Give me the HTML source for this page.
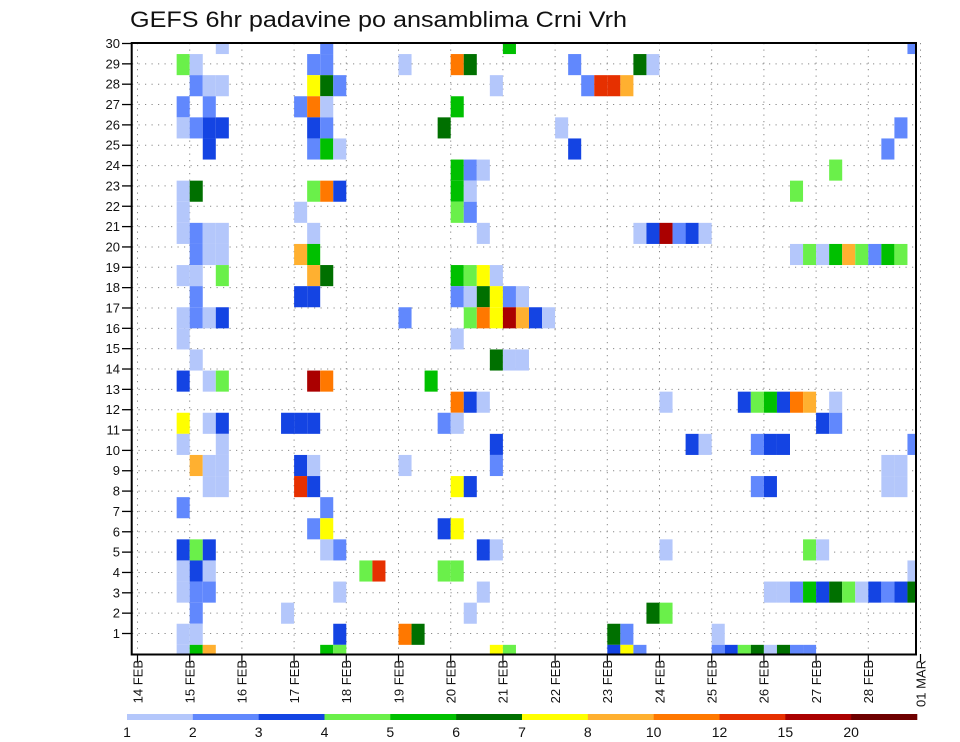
<!DOCTYPE html>
<html><head><meta charset="utf-8"><style>
html,body{margin:0;padding:0;background:#fff;}
svg{display:block;font-family:"Liberation Sans",sans-serif;}
</style></head><body>
<svg id="chart" width="960" height="742" viewBox="0 0 960 742" xmlns="http://www.w3.org/2000/svg">
<defs><clipPath id="plotclip"><rect x="131.7" y="43" width="784.3" height="611.5"/></clipPath></defs>
<text x="130" y="27" font-size="22" fill="#111" textLength="497" lengthAdjust="spacingAndGlyphs">GEFS 6hr padavine po ansamblima Crni Vrh</text>
<g id="grid"></g>
<g id="cells" clip-path="url(#plotclip)"></g>
<rect x="131.7" y="43" width="784.3" height="611.5" fill="none" stroke="#000" stroke-width="2"/>
<g id="yaxis"></g>
<g id="xaxis"></g>
<g id="legend"></g>
</svg>
<script>
// data
const dayLabels = ["14 FEB","15 FEB","16 FEB","17 FEB","18 FEB","19 FEB","20 FEB","21 FEB","22 FEB","23 FEB","24 FEB","25 FEB","26 FEB","27 FEB","28 FEB","01 MAR"];
const memberTicks = [1,2,3,4,5,6,7,8,9,10,11,12,13,14,15,16,17,18,19,20,21,22,23,24,25,26,27,28,29,30];
const levels = [1,2,3,4,5,6,7,8,10,12,15,20];
const levelColors = ["#b4c7fb","#6188fd","#1444e3","#6af04a","#00c000","#007000","#ffff00","#ffb030","#ff7800","#e63000","#aa0000","#6e0000"];
// cells: [member, 6h step since 14 FEB 00Z, precip mm]
const cells = [
[30,6,1.5],[30,14,2.5],[30,28,5.5],[30,59,2.5],
[29,3,4.5],[29,4,1.5],[29,13,2.5],[29,14,2.5],[29,20,1.5],[29,24,11],[29,25,6.5],[29,33,2.5],[29,38,6.5],[29,39,1.5],
[28,4,2.5],[28,5,1.5],[28,6,1.5],[28,13,7.5],[28,14,6.5],[28,15,2.5],[28,27,1.5],[28,34,2.5],[28,35,13.5],[28,36,13.5],[28,37,9],
[27,3,2.5],[27,5,2.5],[27,12,2.5],[27,13,11],[27,14,1.5],[27,24,5.5],
[26,3,1.5],[26,4,2.5],[26,5,3.5],[26,6,3.5],[26,13,3.5],[26,14,2.5],[26,23,6.5],[26,32,1.5],[26,58,2.5],
[25,5,3.5],[25,13,2.5],[25,14,5.5],[25,15,1.5],[25,33,3.5],[25,57,2.5],
[24,24,5.5],[24,25,2.5],[24,26,1.5],[24,53,4.5],
[23,3,1.5],[23,4,6.5],[23,13,4.5],[23,14,11],[23,15,3.5],[23,24,5.5],[23,25,1.5],[23,50,4.5],
[22,3,1.5],[22,12,1.5],[22,24,4.5],[22,25,2.5],
[21,3,1.5],[21,4,2.5],[21,5,1.5],[21,6,1.5],[21,13,1.5],[21,26,1.5],[21,38,1.5],[21,39,3.5],[21,40,17],[21,41,2.5],[21,42,3.5],[21,43,1.5],
[20,4,2.5],[20,5,1.5],[20,6,1.5],[20,12,9],[20,13,5.5],[20,50,1.5],[20,51,4.5],[20,52,1.5],[20,53,5.5],[20,54,9],[20,55,4.5],[20,56,2.5],[20,57,5.5],[20,58,4.5],
[19,3,1.5],[19,4,1.5],[19,6,4.5],[19,13,9],[19,14,6.5],[19,24,5.5],[19,25,4.5],[19,26,7.5],[19,27,1.5],
[18,4,2.5],[18,12,3.5],[18,13,3.5],[18,24,2.5],[18,25,1.5],[18,26,6.5],[18,27,7.5],[18,28,2.5],[18,29,1.5],
[17,3,1.5],[17,4,2.5],[17,5,1.5],[17,6,3.5],[17,20,2.5],[17,25,4.5],[17,26,11],[17,27,7.5],[17,28,17],[17,29,9],[17,30,3.5],[17,31,1.5],
[16,3,1.5],[16,24,1.5],
[15,4,1.5],[15,27,6.5],[15,28,1.5],[15,29,1.5],
[14,3,3.5],[14,5,1.5],[14,6,4.5],[14,13,17],[14,14,11],[14,22,5.5],
[13,24,11],[13,25,3.5],[13,26,1.5],[13,40,1.5],[13,46,3.5],[13,47,4.5],[13,48,5.5],[13,49,3.5],[13,50,11],[13,51,9],[13,53,1.5],
[12,3,7.5],[12,5,1.5],[12,6,3.5],[12,11,3.5],[12,12,3.5],[12,13,3.5],[12,23,2.5],[12,24,1.5],[12,52,3.5],[12,53,2.5],
[11,3,1.5],[11,6,1.5],[11,27,3.5],[11,42,3.5],[11,43,1.5],[11,47,2.5],[11,48,3.5],[11,49,3.5],[11,59,2.5],
[10,4,9],[10,5,1.5],[10,6,1.5],[10,12,3.5],[10,13,1.5],[10,20,1.5],[10,27,2.5],[10,57,1.5],[10,58,1.5],
[9,5,1.5],[9,6,1.5],[9,12,13.5],[9,13,3.5],[9,24,7.5],[9,25,3.5],[9,47,2.5],[9,48,3.5],[9,57,1.5],[9,58,1.5],
[8,3,2.5],[8,14,2.5],
[7,13,2.5],[7,14,7.5],[7,23,3.5],[7,24,7.5],
[6,3,3.5],[6,4,4.5],[6,5,3.5],[6,14,1.5],[6,15,2.5],[6,26,3.5],[6,27,1.5],[6,40,1.5],[6,51,4.5],[6,52,1.5],
[5,3,1.5],[5,4,3.5],[5,5,1.5],[5,17,4.5],[5,18,13.5],[5,23,4.5],[5,24,4.5],[5,59,1.5],
[4,3,1.5],[4,4,2.5],[4,5,2.5],[4,15,1.5],[4,26,1.5],[4,48,1.5],[4,49,1.5],[4,50,2.5],[4,51,5.5],[4,52,3.5],[4,53,6.5],[4,54,4.5],[4,55,1.5],[4,56,3.5],[4,57,2.5],[4,58,3.5],[4,59,6.5],
[3,4,2.5],[3,11,1.5],[3,25,1.5],[3,39,6.5],[3,40,4.5],
[2,3,1.5],[2,4,1.5],[2,15,3.5],[2,20,11],[2,21,6.5],[2,36,6.5],[2,37,2.5],[2,44,1.5],
[1,3,1.5],[1,4,5.5],[1,5,9],[1,14,5.5],[1,15,4.5],[1,27,7.5],[1,28,4.5],[1,36,3.5],[1,37,7.5],[1,38,2.5],[1,44,2.5],[1,45,3.5],[1,46,4.5],[1,47,6.5],[1,48,1.5],[1,49,6.5],[1,50,2.5],[1,51,2.5]
];

const NS = "http://www.w3.org/2000/svg";
function mk(tag, attrs, parent){const e=document.createElementNS(NS,tag);for(const k in attrs)e.setAttribute(k,attrs[k]);parent.appendChild(e);return e;}
const X0 = 137.5, STEP = 13.05, DAY = STEP*4;
function xStep(t){return X0 + t*STEP;}
function xDay(d){return X0 + d*DAY;}
const ROWH = 21.1;
function yCell(m){return 43.5 + (30-m)*ROWH;}
function yTick(m){return 43.5 + (30-m)*(590/29);}
function colorOf(v){let i=0;for(let k=0;k<levels.length;k++){if(v>=levels[k])i=k;}return levelColors[i];}

const grid=document.getElementById('grid');
for(let d=0; d<dayLabels.length; d++){
  const l=mk('line',{x1:xDay(d),x2:xDay(d),y1:43,y2:654,stroke:'#8a8a8a','stroke-width':1,'stroke-dasharray':'1.2 5.3'},grid);
  
  
}
for(const m of memberTicks){
  const l=mk('line',{x1:132,x2:916,y1:yTick(m),y2:yTick(m),stroke:'#8a8a8a','stroke-width':1,'stroke-dasharray':'1.2 5.3'},grid);
  
  
}
const cg=document.getElementById('cells');
for(const c of cells){
  const [m,t,v]=c;
  const r=mk('rect',{x:xStep(t),y:yCell(m)-ROWH/2,width:STEP,height:ROWH,fill:colorOf(v)},cg);
  
  
}
const ya=document.getElementById('yaxis');
for(const m of memberTicks){
  const y=yTick(m);
  const tk=mk('line',{x1:122,x2:132,y1:y,y2:y,stroke:'#000','stroke-width':1.3},ya);
  
  
  const tx=mk('text',{x:120,y:y+4.5,'font-size':13,'text-anchor':'end',fill:'#111'},ya);
  tx.textContent=String(m);
  
  
}
const xa=document.getElementById('xaxis');
for(let d=0; d<dayLabels.length; d++){
  const x=xDay(d);
  const tk=mk('line',{x1:x,x2:x,y1:654,y2:662,stroke:'#000','stroke-width':1.2},xa);
  
  
  const tx=mk('text',{x:0,y:0,'font-size':13,'text-anchor':'end',fill:'#111',transform:'translate('+(x+4.8)+',660) rotate(-90)'},xa);
  tx.textContent=dayLabels[d];
  
  
}
const lg=document.getElementById('legend');
const LX0=127, LX1=917, segW=(LX1-LX0)/levelColors.length;
for(let i=0;i<levelColors.length;i++){
  const r=mk('rect',{x:LX0+i*segW,y:714,width:segW+0.3,height:6,fill:levelColors[i]},lg);
  
  
}
for(let i=0;i<levels.length;i++){
  const t=mk('text',{x:LX0+i*segW,y:737,'font-size':14,'text-anchor':'middle',fill:'#111'},lg);
  t.textContent=String(levels[i]);
  
  
}
</script>
</body></html>
